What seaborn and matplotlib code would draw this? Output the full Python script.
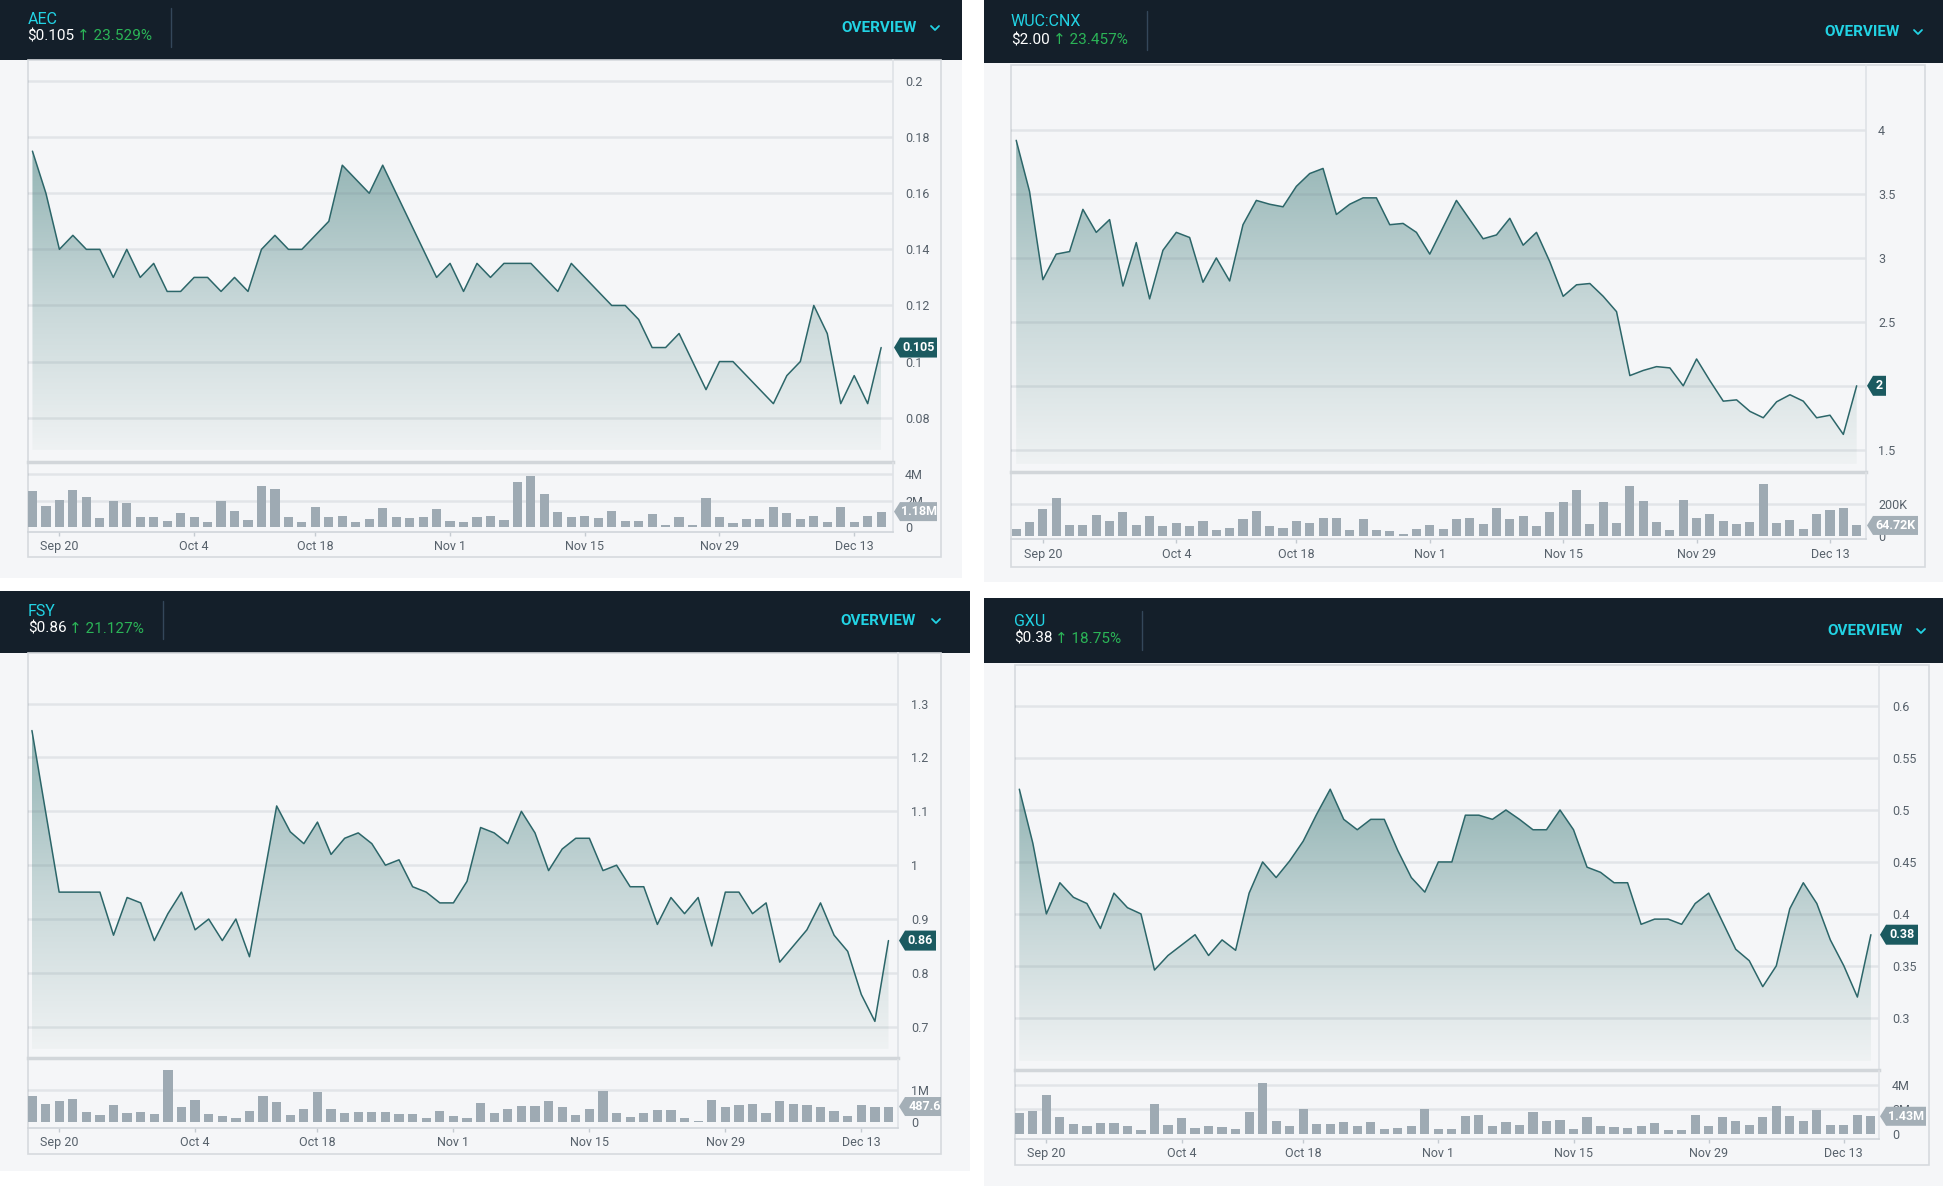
import numpy as np
import matplotlib
matplotlib.use("Agg")
import matplotlib.pyplot as plt
import seaborn as sns
from matplotlib.patches import Rectangle, Polygon
from matplotlib.colors import LinearSegmentedColormap
from matplotlib.transforms import Bbox, TransformedBbox

sns.set_theme(style="white")
plt.rcParams["font.family"] = ["Roboto", "DejaVu Sans"]

# ---------------- data ----------------
tick_idx = [2, 12, 21, 31, 41, 51, 61]
tick_labels = ["Sep 20", "Oct 4", "Oct 18", "Nov 1", "Nov 15", "Nov 29", "Dec 13"]

aec_price = [0.175, 0.16, 0.14, 0.145, 0.14, 0.14, 0.13, 0.14, 0.13, 0.135,
             0.125, 0.125, 0.13, 0.13, 0.125, 0.13, 0.125, 0.14, 0.145, 0.14,
             0.14, 0.145, 0.15, 0.17, 0.165, 0.16, 0.17, 0.16, 0.15, 0.14,
             0.13, 0.135, 0.125, 0.135, 0.13, 0.135, 0.135, 0.135, 0.13, 0.125,
             0.135, 0.13, 0.125, 0.12, 0.12, 0.115, 0.105, 0.105, 0.11, 0.1,
             0.09, 0.1, 0.1, 0.095, 0.09, 0.085, 0.095, 0.1, 0.12, 0.11,
             0.085, 0.095, 0.085, 0.105]
aec_volume_m = [2.69, 1.6, 2.05, 2.77, 2.3, 0.69, 2.0, 1.83, 0.77, 0.79,
                0.47, 1.04, 0.77, 0.37, 1.95, 1.23, 0.52, 3.11, 2.89, 0.77,
                0.42, 1.5, 0.79, 0.84, 0.42, 0.62, 1.43, 0.81, 0.69, 0.77,
                1.36, 0.47, 0.4, 0.74, 0.84, 0.57, 3.43, 3.88, 2.49, 1.14,
                0.74, 0.84, 0.67, 1.21, 0.47, 0.47, 0.99, 0.15, 0.74, 0.2,
                2.2, 0.79, 0.32, 0.59, 0.59, 1.53, 1.06, 0.59, 0.86, 0.37,
                1.5, 0.4, 0.84, 1.18]
aec_yticks = [0.08, 0.1, 0.12, 0.14, 0.16, 0.18, 0.2]
aec_yticklabels = ["0.08", "0.1", "0.12", "0.14", "0.16", "0.18", "0.2"]
aec_vticks = [0, 2, 4]
aec_vticklabels = ["0", "2M", "4M"]

wuc_price = [3.92, 3.52, 2.83, 3.03, 3.05, 3.38, 3.20, 3.30, 2.78, 3.12,
             2.68, 3.06, 3.20, 3.16, 2.81, 3.0, 2.82, 3.26, 3.45, 3.42,
             3.40, 3.56, 3.66, 3.70, 3.34, 3.42, 3.47, 3.47, 3.26, 3.27,
             3.20, 3.03, 3.24, 3.45, 3.30, 3.15, 3.18, 3.31, 3.10, 3.20,
             2.97, 2.70, 2.79, 2.80, 2.70, 2.58, 2.08, 2.12, 2.15, 2.14,
             2.0, 2.21, 2.04, 1.88, 1.89, 1.80, 1.75, 1.875, 1.93, 1.88,
             1.75, 1.77, 1.62, 2.0]
wuc_volume_k = [40, 86, 170, 236, 65, 65, 133, 93, 150, 65,
                122, 61, 80, 61, 93, 38, 48, 107, 158, 61,
                48, 95, 82, 112, 112, 34, 107, 34, 29, 13,
                44, 65, 42, 107, 109, 74, 175, 103, 124, 61,
                150, 215, 291, 72, 213, 80, 312, 217, 88, 38,
                225, 109, 137, 91, 72, 86, 326, 78, 97, 42,
                135, 164, 173, 64.72]
wuc_yticks = [1.5, 2, 2.5, 3, 3.5, 4]
wuc_yticklabels = ["1.5", "2", "2.5", "3", "3.5", "4"]
wuc_vticks = [0, 200]
wuc_vticklabels = ["0", "200K"]

fsy_price = [1.25, 1.10, 0.95, 0.95, 0.95, 0.95, 0.87, 0.94, 0.93, 0.86,
             0.91, 0.95, 0.88, 0.90, 0.86, 0.90, 0.83, 0.97, 1.11, 1.062,
             1.04, 1.08, 1.02, 1.05, 1.06, 1.04, 1.0, 1.01, 0.96, 0.95,
             0.93, 0.93, 0.97, 1.07, 1.06, 1.04, 1.10, 1.06, 0.99, 1.03,
             1.05, 1.05, 0.99, 1.0, 0.96, 0.96, 0.89, 0.94, 0.91, 0.94,
             0.85, 0.95, 0.95, 0.91, 0.93, 0.82, 0.85, 0.88, 0.93, 0.87,
             0.84, 0.76, 0.71, 0.86]
fsy_volume_m = [0.81, 0.58, 0.67, 0.72, 0.31, 0.23, 0.55, 0.30, 0.33, 0.27,
                1.63, 0.49, 0.70, 0.25, 0.20, 0.12, 0.34, 0.83, 0.63, 0.22,
                0.41, 0.96, 0.41, 0.28, 0.33, 0.33, 0.31, 0.24, 0.24, 0.14,
                0.34, 0.19, 0.14, 0.60, 0.28, 0.41, 0.51, 0.51, 0.66, 0.46,
                0.22, 0.40, 0.99, 0.28, 0.17, 0.29, 0.39, 0.39, 0.12, 0.04,
                0.71, 0.49, 0.54, 0.57, 0.29, 0.65, 0.58, 0.53, 0.46, 0.36,
                0.19, 0.53, 0.48, 0.49]
fsy_yticks = [0.7, 0.8, 0.9, 1.0, 1.1, 1.2, 1.3]
fsy_yticklabels = ["0.7", "0.8", "0.9", "1", "1.1", "1.2", "1.3"]
fsy_vticks = [0, 1]
fsy_vticklabels = ["0", "1M"]

gxu_price = [0.52, 0.468, 0.40, 0.43, 0.416, 0.41, 0.386, 0.42, 0.406, 0.40,
             0.346, 0.36, 0.37, 0.38, 0.36, 0.375, 0.365, 0.42, 0.45, 0.435,
             0.451, 0.47, 0.496, 0.52, 0.491, 0.481, 0.491, 0.491, 0.461, 0.435,
             0.421, 0.45, 0.45, 0.495, 0.495, 0.491, 0.50, 0.491, 0.481, 0.481,
             0.50, 0.481, 0.445, 0.44, 0.43, 0.43, 0.39, 0.395, 0.395, 0.39,
             0.41, 0.42, 0.393, 0.366, 0.355, 0.33, 0.35, 0.405, 0.43, 0.41,
             0.375, 0.35, 0.32, 0.38]
gxu_volume_m = [1.66, 1.9, 3.2, 1.4, 0.81, 0.62, 0.84, 0.87, 0.62, 0.31,
                2.4, 0.69, 1.28, 0.5, 0.62, 0.53, 0.37, 1.78, 4.2, 1.03,
                0.62, 2.0, 0.78, 0.78, 0.97, 0.62, 0.97, 0.37, 0.5, 0.62,
                2.0, 0.37, 0.37, 1.47, 1.56, 0.62, 0.97, 0.75, 1.78, 1.03,
                1.09, 0.37, 1.37, 0.62, 0.56, 0.47, 0.66, 0.84, 0.31, 0.31,
                1.56, 0.62, 1.34, 1.03, 0.75, 1.37, 2.25, 1.44, 1.03, 1.97,
                0.75, 0.69, 1.53, 1.43]
gxu_yticks = [0.3, 0.35, 0.4, 0.45, 0.5, 0.55, 0.6]
gxu_yticklabels = ["0.3", "0.35", "0.4", "0.45", "0.5", "0.55", "0.6"]
gxu_vticks = [0, 2, 4]
gxu_vticklabels = ["0", "2M", "4M"]

# ---------------- style / layout ----------------
W, H = 1943, 1186
PT = 0.72
HEADER_BG = "#141f2a"
PANEL_BG = "#f5f6f8"
CARD_BORDER = "#d6dade"
GRID_C = "#6f7d89"
GRID_A = 0.14
SEP = "#d2d6da"
FRAME = "#dfe2e6"
LINE = "#2c6669"
TAG = "#1b5a60"
VTAG = "#a4afb7"
BAR = "#9eaab3"
CYAN = "#22d3e4"
GREEN = "#2bb457"
LABEL = "#57616b"
TICKFONT = ["Liberation Sans Narrow", "Roboto", "DejaVu Sans"]

panels = [
    dict(ticker="AEC", ptxt="$0.105", ctxt="\u2191 23.529%", prices=aec_price, vols=aec_volume_m,
         yt=aec_yticks, ytl=aec_yticklabels, vt=aec_vticks, vtl=aec_vticklabels,
         tag="0.105", vtag="1.18M",
         bg=(0, 0, 962, 578), header=(0, 0, 962, 60), card=(27.6, 60, 941, 557),
         pax=(27.6, 60, 893, 462), vy=(463.5, 532), ylim=(0.0642, 0.2075), fill=0.0685,
         vlim=(-0.35, 4.79), xlim=(-0.36, 63.88), lab_x=905, xlab_y=547,
         tk=(27.5, 19), pr=(27.5, 36), div=(171, 8, 47), ovw=(917, 28), chev=935,
         tagw=43, vtagw=43),
    dict(ticker="WUC:CNX", ptxt="$2.00", ctxt="\u2191 23.457%", prices=wuc_price, vols=wuc_volume_k,
         yt=wuc_yticks, ytl=wuc_yticklabels, vt=wuc_vticks, vtl=wuc_vticklabels,
         tag="2", vtag="64.72K",
         bg=(984, 0, 1943, 582), header=(984, 0, 1943, 62.7), card=(1011, 65, 1925, 566.7),
         pax=(1011, 65, 1866, 471.6), vy=(472.5, 539), ylim=(1.329, 4.509), fill=1.389,
         vlim=(-20.8, 398.7), xlim=(-0.39, 63.7), lab_x=1878, xlab_y=555,
         tk=(1011, 22), pr=(1011, 40), div=(1147, 11, 50), ovw=(1900, 32), chev=1918,
         tagw=19, vtagw=51),
    dict(ticker="FSY", ptxt="$0.86", ctxt="\u2191 21.127%", prices=fsy_price, vols=fsy_volume_m,
         yt=fsy_yticks, ytl=fsy_yticklabels, vt=fsy_vticks, vtl=fsy_vticklabels,
         tag="0.86", vtag="487.62K",
         bg=(0, 591, 970, 1171), header=(0, 591, 970, 653), card=(28, 653, 941, 1153.6),
         pax=(28, 653, 898, 1058), vy=(1059.5, 1128), ylim=(0.642, 1.394), fill=0.659,
         vlim=(-0.186, 1.97), xlim=(-0.29, 63.7), lab_x=911, xlab_y=1142.5,
         tk=(28, 611), pr=(28, 629), div=(163, 601, 639), ovw=(916, 621), chev=936,
         tagw=37, vtagw=60),
    dict(ticker="GXU", ptxt="$0.38", ctxt="\u2191 18.75%", prices=gxu_price, vols=gxu_volume_m,
         yt=gxu_yticks, ytl=gxu_yticklabels, vt=gxu_vticks, vtl=gxu_vticklabels,
         tag="0.38", vtag="1.43M",
         bg=(984, 597.6, 1943, 1186), header=(984, 597.6, 1943, 663), card=(1015, 664.5, 1929, 1165),
         pax=(1015, 664.5, 1879, 1069.8), vy=(1071, 1139.4), ylim=(0.25, 0.640), fill=0.258,
         vlim=(-0.47, 5.15), xlim=(-0.32, 63.6), lab_x=1892, xlab_y=1154,
         tk=(1014, 621), pr=(1014, 639), div=(1142, 611, 650), ovw=(1902.6, 631), chev=1921,
         tagw=38, vtagw=46),
]

fig = plt.figure(figsize=(W / 100, H / 100), dpi=100, facecolor="white")
bg = fig.add_axes([0, 0, 1, 1], zorder=0)
bg.set_xlim(0, W); bg.set_ylim(H, 0); bg.axis("off")
ov = fig.add_axes([0, 0, 1, 1], zorder=10)
ov.set_xlim(0, W); ov.set_ylim(H, 0); ov.axis("off")


def rect_fig(x0, y0, x1, y1):
    return [x0 / W, 1 - y1 / H, (x1 - x0) / W, (y1 - y0) / H]


def draw_tag(x_tip, yc, w, h, text, fc, clip_x):
    pts = [(x_tip, yc), (x_tip + 6, yc - h / 2), (x_tip + w, yc - h / 2),
           (x_tip + w, yc + h / 2), (x_tip + 6, yc + h / 2)]
    poly = Polygon(pts, closed=True, fc=fc, ec="none")
    ov.add_patch(poly)
    t = ov.text(x_tip + 3 + w / 2, yc, text, color="white", fontsize=9, fontweight="bold",
                ha="center", va="center", family=TICKFONT)
    cb = TransformedBbox(Bbox([[x_tip - 2, 0], [clip_x, H]]), ov.transData)
    poly.set_clip_box(cb); poly.set_clip_on(True)
    t.set_clip_box(cb); t.set_clip_on(True)


cmap = LinearSegmentedColormap.from_list("fade", ["#eff2f3", "#c7d7d8", "#93b4b4"])
grad = np.linspace(0, 1, 256).reshape(-1, 1)
idx = np.arange(64)

for p in panels:
    x0, y0, x1, y1 = p["bg"]
    bg.add_patch(Rectangle((x0, y0), x1 - x0, y1 - y0, fc=PANEL_BG, lw=0))
    x0, y0, x1, y1 = p["header"]
    bg.add_patch(Rectangle((x0, y0), x1 - x0, y1 - y0, fc=HEADER_BG, lw=0))
    cx0, cy0, cx1, cy1 = p["card"]
    bg.add_patch(Rectangle((cx0, cy0), cx1 - cx0, cy1 - cy0, fc=PANEL_BG, ec=CARD_BORDER, lw=1.2))

    # header texts
    bg.text(p["tk"][0], p["tk"][1], p["ticker"], color=CYAN, fontsize=11.5, va="center", ha="left")
    t = bg.text(p["pr"][0], p["pr"][1], p["ptxt"], color="white", fontsize=11, va="center", ha="left")
    bg.annotate(p["ctxt"], xy=(1, 0.5), xycoords=t, xytext=(2, 0), textcoords="offset points",
                va="center", ha="left", color=GREEN, fontsize=11)
    dx, dy0, dy1 = p["div"]
    bg.plot([dx, dx], [dy0, dy1], color="#34475a", lw=1)
    ox, oy = p["ovw"]
    bg.text(ox, oy, "OVERVIEW", color=CYAN, fontsize=11, fontweight="bold", ha="right", va="center")
    chx = p["chev"]
    bg.plot([chx - 4, chx, chx + 4], [oy - 2, oy + 2, oy - 2], color=CYAN, lw=1.3)

    # price axes
    ax0, ay0, ax1, ay1 = p["pax"]
    ax = fig.add_axes(rect_fig(ax0, ay0, ax1, ay1), zorder=1)
    ax.set_facecolor("none")
    vals = np.array(p["prices"])
    poly = ax.fill_between(idx, vals, p["fill"], color="none", lw=0)
    im = ax.imshow(grad, extent=[idx[0], idx[-1], p["fill"], vals.max()], origin="lower",
                   aspect="auto", cmap=cmap, zorder=1, interpolation="bilinear")
    im.set_clip_path(poly.get_paths()[0], transform=ax.transData)
    sns.lineplot(x=idx, y=vals, ax=ax, color=LINE, lw=1.1, zorder=3)
    ax.set_xlim(*p["xlim"]); ax.set_ylim(*p["ylim"])
    ax.set_yticks(p["yt"]); ax.set_yticklabels(p["ytl"])
    ax.yaxis.tick_right()
    ax.tick_params(axis="y", length=0, pad=(p["lab_x"] - ax1) * PT, labelsize=9, labelcolor=LABEL)
    ax.set_xticks([])
    ax.grid(False)
    for v in p["yt"]:
        ax.axhline(v, color=GRID_C, alpha=GRID_A, lw=1.8, zorder=2)
    ax.spines["top"].set_visible(False); ax.spines["left"].set_visible(False)
    ax.spines["right"].set_color(FRAME); ax.spines["right"].set_linewidth(1.2)
    ax.spines["bottom"].set_color(SEP); ax.spines["bottom"].set_linewidth(2.5)
    ax.set_xlabel(""); ax.set_ylabel("")
    for lab in ax.get_yticklabels():
        lab.set_fontfamily(TICKFONT)

    # volume axes
    vy0, vy1 = p["vy"]
    axv = fig.add_axes(rect_fig(ax0, vy0, ax1, vy1), zorder=1)
    axv.set_facecolor("none")
    sns.barplot(x=idx, y=p["vols"], native_scale=True, width=0.68, color=BAR, saturation=1,
                errorbar=None, ax=axv, zorder=2, linewidth=0)
    axv.set_xlim(*p["xlim"]); axv.set_ylim(*p["vlim"])
    axv.grid(False)
    for v in p["vt"][1:]:
        axv.axhline(v, color=GRID_C, alpha=GRID_A, lw=1.8, zorder=1)
    axv.set_yticks(p["vt"]); axv.set_yticklabels(p["vtl"])
    axv.yaxis.tick_right()
    axv.tick_params(axis="y", length=0, pad=(p["lab_x"] - ax1) * PT, labelsize=9, labelcolor=LABEL)
    axv.set_xticks(tick_idx); axv.set_xticklabels(tick_labels)
    pad_px = p["xlab_y"] - 6.8 - vy1 - 4
    axv.tick_params(axis="x", bottom=True, direction="out", length=4 * PT, width=1, color="#c5cbd1",
                    pad=pad_px * PT, labelsize=9, labelcolor=LABEL)
    axv.spines["top"].set_visible(False); axv.spines["left"].set_visible(False)
    axv.spines["right"].set_color(FRAME); axv.spines["right"].set_linewidth(1.2)
    axv.spines["bottom"].set_color("#d0d5da"); axv.spines["bottom"].set_linewidth(1.2)
    axv.set_xlabel(""); axv.set_ylabel("")
    for lab in axv.get_yticklabels() + axv.get_xticklabels():
        lab.set_fontfamily(TICKFONT)

    # value tags
    ylo, yhi = p["ylim"]
    yc = ay0 + (yhi - vals[-1]) / (yhi - ylo) * (ay1 - ay0)
    draw_tag(ax1 + 1, yc, p["tagw"], 20, p["tag"], TAG, cx1)
    vlo, vhi = p["vlim"]
    vyc = vy0 + (vhi - p["vols"][-1]) / (vhi - vlo) * (vy1 - vy0)
    draw_tag(ax1 + 1, vyc, p["vtagw"], 19, p["vtag"], VTAG, cx1)

fig.savefig("out.png", dpi=100, facecolor="white")
